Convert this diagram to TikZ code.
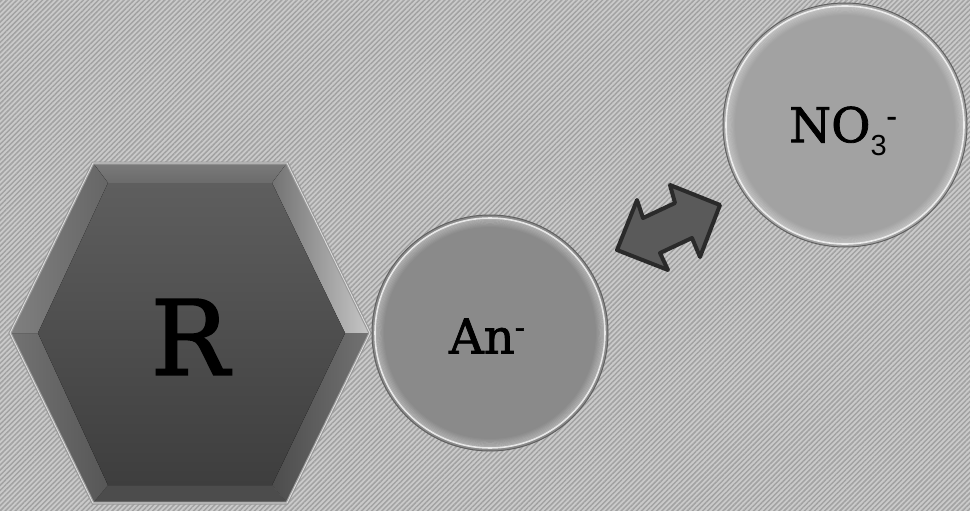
\documentclass[tikz,border=0pt]{standalone}
\usepackage{fontspec}
\setmainfont[FakeBold=1.6]{DejaVu Serif}
\newfontfamily\subfont{Liberation Sans}
\usetikzlibrary{patterns.meta}
\definecolor{bgc}{HTML}{CACACA}
\definecolor{stripe}{HTML}{A2A2A2}
\definecolor{hexA}{HTML}{5E5E5E}
\definecolor{hexB}{HTML}{3E3E3E}
\definecolor{anfill}{HTML}{8A8A8A}
\definecolor{nofill}{HTML}{A2A2A2}
\definecolor{arrfill}{HTML}{5A5A5A}
\definecolor{arrline}{HTML}{2A2A2A}
\tikzset{
  ion/.style={circle, inner sep=0pt, font=\fontsize{48}{48}\selectfont, text=black},
  edge/.style={draw=black!62, line width=1pt},
  ring/.pic={
    \draw[white, opacity=0.8, line width=1.6pt] (0,0) circle (#1-3);
    \foreach \k in {1,...,7}{
      \draw[white, opacity={0.32*(1-\k/8)}, line width=1.3pt] (0,0) circle (#1-3-\k*1.2);
    }
    \draw[edge] (0,0) circle (#1);
  },
}
\begin{document}
\begin{tikzpicture}[x=1pt,y=-1pt]
\useasboundingbox (0,0) rectangle (970,511);
% background
\fill[bgc] (0,0) rectangle (970,511);
\fill[pattern={Lines[angle=45,distance=3.6pt,line width=1.5pt]}, pattern color=stripe] (0,0) rectangle (970,511);

% hexagon
\coordinate (h1) at (10,333);
\coordinate (h2) at (93,163);
\coordinate (h3) at (287,163);
\coordinate (h4) at (370,333);
\coordinate (h5) at (287,503);
\coordinate (h6) at (93,503);
\coordinate (i1) at (38,333);
\coordinate (i2) at (108,183);
\coordinate (i3) at (272,183);
\coordinate (i4) at (345,333);
\coordinate (i5) at (272,485);
\coordinate (i6) at (108,485);
\fill[black!30] (h1)--(h2)--(h3)--(h4)--(h5)--(h6)--cycle;
% facets
\fill[top color=black!52, bottom color=black!58] (h2)--(h3)--(i3)--(i2)--cycle;
\fill[left color=black!55, right color=black!22] (h3)--(h4)--(i4)--(i3)--cycle;
\fill[left color=black!70, right color=black!55] (h4)--(h5)--(i5)--(i4)--cycle;
\fill[black!70] (h5)--(h6)--(i6)--(i5)--cycle;
\fill[left color=black!55, right color=black!66] (h6)--(h1)--(i1)--(i6)--cycle;
\fill[left color=black!50, right color=black!60] (h1)--(h2)--(i2)--(i1)--cycle;
\fill[top color=hexA, bottom color=hexB] (i1)--(i2)--(i3)--(i4)--(i5)--(i6)--cycle;
\draw[black!40, line width=3pt, line join=miter] (h1)--(h2)--(h3)--(h4)--(h5)--(h6)--cycle;
\draw[black!12, line width=0.8pt, line join=miter] (h1)--(h2)--(h3)--(h4)--(h5)--(h6)--cycle;
\node[font=\fontsize{104}{104}\selectfont] (R) at (190,337) {R};

% An- circle
\fill[anfill] (490,333) circle (118);
\pic at (490,333) {ring=118};
\node[ion] (An) at (487,336) {An\raisebox{0.33em}{\fontsize{30}{30}\selectfont -}};

% NO3- circle
\fill[nofill] (845,125) circle (122);
\pic at (845,125) {ring=122};
\node[ion] (NO) at (843,131) {NO\raisebox{-13pt}{\subfont\fontsize{29}{29}\selectfont 3}\raisebox{0.33em}{\fontsize{30}{30}\selectfont -}};

% double arrow
\coordinate (a1) at (617,250);
\coordinate (a2) at (637,200);
\coordinate (a3) at (643,218);
\coordinate (a4) at (675,203);
\coordinate (a5) at (670,185);
\coordinate (a6) at (720,205);
\coordinate (a7) at (700,257);
\coordinate (a8) at (692,238);
\coordinate (a9) at (660,253);
\coordinate (a10) at (668,270);
\draw[fill=arrfill, draw=arrline, line width=4pt, line join=round]
  (a1)--(a2)--(a3)--(a4)--(a5)--(a6)--(a7)--(a8)--(a9)--(a10)--cycle;
\end{tikzpicture}
\end{document}
